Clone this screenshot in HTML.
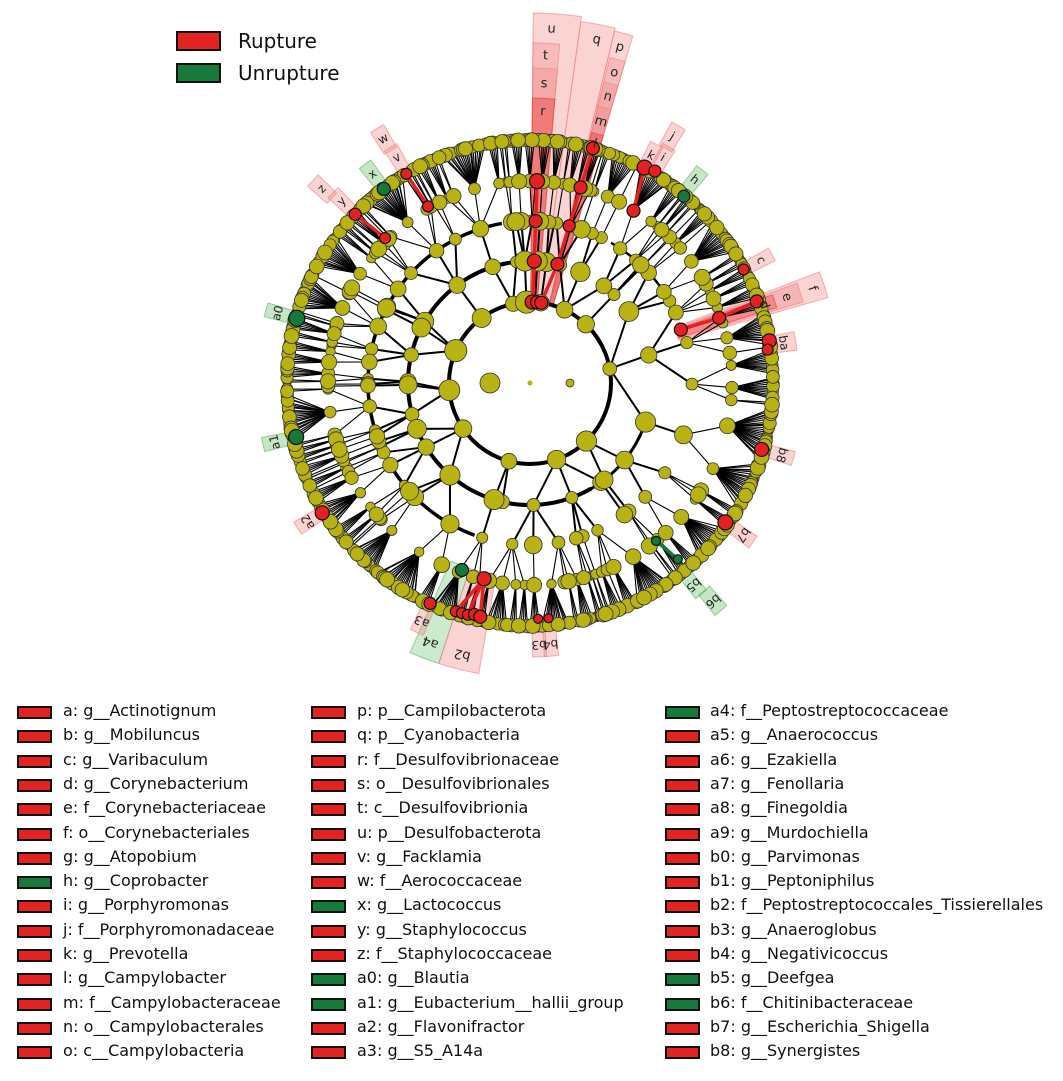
<!DOCTYPE html>
<html><head><meta charset="utf-8">
<style>
html,body{margin:0;padding:0;background:#fff;}
body{width:1063px;height:1081px;position:relative;overflow:hidden;font-family:"DejaVu Sans","Liberation Sans",sans-serif;}
svg{position:absolute;left:0;top:0;}
.lg{position:absolute;font-size:16px;color:#111;white-space:nowrap;line-height:18px;}
.bx{position:absolute;width:31px;height:9px;border:2px solid #111;}
</style></head>
<body>
<svg id="s" width="1063" height="700" viewBox="0 0 1063 700" xmlns="http://www.w3.org/2000/svg">
<g id="shade"></g><g id="lines"></g><g id="nodes"></g><g id="hl"></g><g id="lab" font-family="DejaVu Sans, Liberation Sans, sans-serif" font-size="12" fill="#222"></g>
<rect x="177" y="32" width="43" height="18" fill="#e32222" stroke="#111" stroke-width="2"/>
<rect x="177" y="64" width="43" height="18" fill="#157a3a" stroke="#111" stroke-width="2"/>
<text x="238" y="48" font-family="DejaVu Sans, Liberation Sans, sans-serif" font-size="20" fill="#111">Rupture</text>
<text x="238" y="80" font-family="DejaVu Sans, Liberation Sans, sans-serif" font-size="20" fill="#111">Unrupture</text>
</svg>
<div id="legend"></div>
<script>
var NS="http://www.w3.org/2000/svg",cx=530,cy=383;
function P(r,a){var t=a*Math.PI/180;return [cx+r*Math.cos(t),cy-r*Math.sin(t)];}
function el(g,n,at){var e=document.createElementNS(NS,n);for(var k in at)e.setAttribute(k,at[k]);document.getElementById(g).appendChild(e);return e;}
var seed=12345;function rnd(){seed=(seed*16807)%2147483647;return seed/2147483647;}
function ri(a,b){return a+Math.floor(rnd()*(b-a+1));}
var YEL="#b8b313";
function wedge(a0,a1,r0,r1,fill,op){
 var p1=P(r0,a0),p2=P(r1,a0),p3=P(r1,a1),p4=P(r0,a1);
 el("shade","path",{d:"M"+p1+" L"+p2+" A"+r1+" "+r1+" 0 0 0 "+p3+" L"+p4+" A"+r0+" "+r0+" 0 0 1 "+p1+"Z",fill:fill,"fill-opacity":op,stroke:fill,"stroke-opacity":0.6,"stroke-width":1});
}
function arc(r,a0,a1,w){var p=P(r,a0),q=P(r,a1);var large=(a1-a0)>180?1:0;el("lines","path",{d:"M"+p+" A"+r+" "+r+" 0 "+large+" 0 "+q,fill:"none",stroke:"#000","stroke-width":w});}
el("lines","circle",{cx:cx,cy:cy,r:81,fill:"none",stroke:"#000","stroke-width":4});
arc(122,95,300,4);arc(162,100,250,3.5);arc(122,-70,-20,3);arc(162,30,60,2.5);
var R=[0,81,122,162,202,243];
var leaves=0;
function build(level){var n={level:level,ch:[]};
 if(level<5){var k;
  if(level==0)k=14;else if(level==1)k=ri(1,3);else if(level==2)k=ri(1,3);else if(level==3)k=ri(1,4);else k=(rnd()<0.2?ri(10,25):ri(1,6));
  if(level>=2&&rnd()<0.08)k=0;
  for(var i=0;i<k;i++)n.ch.push(build(level+1));}
 if(n.ch.length==0){n.leaf=leaves++;}
 return n;}
var root=build(0);
var step=360/leaves,start=95;
function assign(n){if(n.ch.length==0){n.a=start-n.leaf*step;}else{var s=0;n.ch.forEach(function(c){assign(c);s+=c.a;});n.a=s/n.ch.length;}}
assign(root);
var circ=[];
function draw(n){var p=P(R[n.level],n.a);
 n.ch.forEach(function(c){var q=P(R[c.level]+(c.level==5?(rnd()*8-2):0),c.a);
  if(n.level>0)el("lines","line",{x1:p[0],y1:p[1],x2:q[0],y2:q[1],stroke:"#000","stroke-width":n.level<=2?2:1.1});
  draw(c);});
 if(n.level>0){var rr=[0,10,9,8,7,6.5][n.level]*(0.65+rnd()*0.5);circ.push([p[0],p[1],rr]);}
}
draw(root);
circ.sort(function(a,b){return a[2]-b[2];});
circ.forEach(function(c){el("nodes","circle",{cx:c[0],cy:c[1],r:c[2],fill:YEL,stroke:"#333","stroke-width":0.8});});
el("nodes","circle",{cx:530,cy:383,r:2.5,fill:YEL});
el("nodes","circle",{cx:490,cy:383,r:10,fill:YEL,stroke:"#333","stroke-width":0.8});
el("nodes","circle",{cx:570,cy:383,r:4,fill:YEL,stroke:"#333","stroke-width":0.8});
var PINK="#f08080";
wedge(82,89.5,80,370,PINK,0.35);wedge(85,89.5,80,340,PINK,0.3);wedge(85,89.5,80,315,PINK,0.3);wedge(85,89.5,80,285,"#e83838",0.4);
wedge(76.5,82,80,365,PINK,0.35);
wedge(73.5,76.5,80,362,PINK,0.35);wedge(73.5,76.2,80,335,PINK,0.3);wedge(73.5,76.2,80,310,PINK,0.3);wedge(73.5,76.2,80,285,PINK,0.3);wedge(73.5,76.2,80,258,"#e83838",0.4);
wedge(16,21,155,310,PINK,0.35);wedge(16.5,20.5,155,285,PINK,0.35);wedge(17,20,155,258,"#e83838",0.35);
wedge(246,252,195,295,"#5cb85c",0.3);wedge(252,260,195,295,PINK,0.35);
function lab(t,a,r,col,wd){var w=wd||3;wedge(a-w/2,a+w/2,r-14,r+12,col,0.35);var p=P(r,a);
 el("lab","text",{x:p[0],y:p[1]+4,"text-anchor":"middle",transform:"rotate("+(90-a)+" "+p[0]+" "+p[1]+")"}).textContent=t;}
function big(t,a,r){var p=P(r,a);el("lab","text",{x:p[0],y:p[1]+4,"text-anchor":"middle","font-size":"13",transform:"rotate("+(90-a)+" "+p[0]+" "+p[1]+")"}).textContent=t;}
big("u",86.5,355);big("t",87.3,328);big("s",87.3,300);big("r",87.3,272);big("q",79,350);
big("p",75,348);big("o",74.8,322);big("n",74.8,297);big("m",74.8,271);big("l",74.8,248);
big("f",18.5,298);big("e",18.5,271);big("d",18.5,247);
var G="#5cb85c",Rd=PINK;
lab("c",28,262,Rd);lab("ba",9,257,Rd,4);lab("k",62,258,Rd);lab("j",60,285,Rd);lab("i",59.5,262,Rd);lab("h",51,262,G);
lab("w",121,285,Rd);lab("v",120.6,262,Rd);lab("x",127,262,G);lab("z",137,285,Rd);lab("y",136,262,Rd);
lab("a0",164.5,262,G);lab("a1",193,262,G);lab("a2",212,262,Rd);lab("a3",245.6,262,Rd);
big("a4",249,278);big("b2",256,280);
lab("b3",272,262,Rd);lab("b4",274.5,262,Rd);lab("b5",309,260,G);lab("b6",310,285,G);lab("b7",324.5,262,Rd);lab("b8",344,262,Rd);
var RED="#e52020",GRN="#137a3a";
function hn(r,a,c,s){var p=P(r,a);el("hl","circle",{cx:p[0],cy:p[1],r:s||6.5,fill:c,stroke:"#111","stroke-width":1.2});return p;}
function he(r0,a0,r1,a1,c){var p=P(r0,a0),q=P(r1,a1);el("hl","line",{x1:p[0],y1:p[1],x2:q[0],y2:q[1],stroke:c,"stroke-width":3.5});}
he(81,88,122,88,RED);he(122,88,162,88,RED);he(162,88,202,88,RED);
he(81,82,122,77,RED);he(122,77,162,76,RED);he(162,76,202,75.5,RED);he(202,75.5,243,75,RED);
hn(81,88.5,RED,7);hn(81,85,RED,6.5);hn(81,82,RED,6.5);hn(122,88,RED,7);hn(122,77,RED,6.5);hn(162,88,RED,6.5);hn(162,76,RED,6);hn(202,88,RED,7.5);hn(202,75.5,RED,6.5);hn(243,75,RED,6.5);
he(160,19.5,200,19,RED);he(200,19,241,19.8,RED);hn(160,19.5,RED,6.5);hn(200,19,RED,6.5);hn(241,19.8,RED,6.5);
hn(243,10,RED,7);hn(240,8,RED,5.5);hn(242,28,RED,5.5);
he(201,59,244,62,RED);hn(201,59,RED,6.5);hn(244,62,RED,7.5);hn(246,59.5,RED,6);hn(242,50.5,GRN,6);
he(204,120,243,120.6,RED);hn(204,120,RED,5.5);hn(243,120.6,RED,5.5);hn(243,127,GRN,6.5);
he(205,135,243,136,RED);hn(205,135,RED,5.5);hn(243,136,RED,6);
hn(242,164.5,GRN,8);hn(240,193,GRN,7.5);hn(245,212,RED,7);hn(242,245.6,RED,6);
hn(199,250,GRN,6.5);he(201,256.8,240,252,RED);he(201,256.8,240,258,RED);he(201,256.8,238,255,RED);
hn(240,252,RED,5.5);hn(240,253.5,RED,5.5);hn(240,255,RED,5.5);hn(238,256.5,RED,6);hn(239,258,RED,6.5);hn(201,256.8,RED,7);
hn(236,272,RED,4.5);hn(236,274.5,RED,4.5);
he(202,308.6,230,310,GRN);hn(202,308.6,GRN,4.5);hn(230,310,GRN,4.5);
hn(240,324.5,RED,7.5);hn(241,344,RED,7);
var L=[["a: g__Actinotignum","r"],["b: g__Mobiluncus","r"],["c: g__Varibaculum","r"],["d: g__Corynebacterium","r"],["e: f__Corynebacteriaceae","r"],["f: o__Corynebacteriales","r"],["g: g__Atopobium","r"],["h: g__Coprobacter","g"],["i: g__Porphyromonas","r"],["j: f__Porphyromonadaceae","r"],["k: g__Prevotella","r"],["l: g__Campylobacter","r"],["m: f__Campylobacteraceae","r"],["n: o__Campylobacterales","r"],["o: c__Campylobacteria","r"],
["p: p__Campilobacterota","r"],["q: p__Cyanobacteria","r"],["r: f__Desulfovibrionaceae","r"],["s: o__Desulfovibrionales","r"],["t: c__Desulfovibrionia","r"],["u: p__Desulfobacterota","r"],["v: g__Facklamia","r"],["w: f__Aerococcaceae","r"],["x: g__Lactococcus","g"],["y: g__Staphylococcus","r"],["z: f__Staphylococcaceae","r"],["a0: g__Blautia","g"],["a1: g__Eubacterium__hallii_group","g"],["a2: g__Flavonifractor","r"],["a3: g__S5_A14a","r"],
["a4: f__Peptostreptococcaceae","g"],["a5: g__Anaerococcus","r"],["a6: g__Ezakiella","r"],["a7: g__Fenollaria","r"],["a8: g__Finegoldia","r"],["a9: g__Murdochiella","r"],["b0: g__Parvimonas","r"],["b1: g__Peptoniphilus","r"],["b2: f__Peptostreptococcales_Tissierellales","r"],["b3: g__Anaeroglobus","r"],["b4: g__Negativicoccus","r"],["b5: g__Deefgea","g"],["b6: f__Chitinibacteraceae","g"],["b7: g__Escherichia_Shigella","r"],["b8: g__Synergistes","r"]];
var bxX=[17,311,665],txX=[63,357,710],h="";
L.forEach(function(it,i){var c=Math.floor(i/15),j=i%15,y=712+j*24.3;
 h+='<div class="bx" style="left:'+bxX[c]+'px;top:'+(y-6)+'px;background:'+(it[1]=="r"?"#e32222":"#157a3a")+'"></div>';
 h+='<div class="lg" style="left:'+txX[c]+'px;top:'+(y-10)+'px">'+it[0]+'</div>';});
document.getElementById("legend").innerHTML=h;
</script>
</body></html>
